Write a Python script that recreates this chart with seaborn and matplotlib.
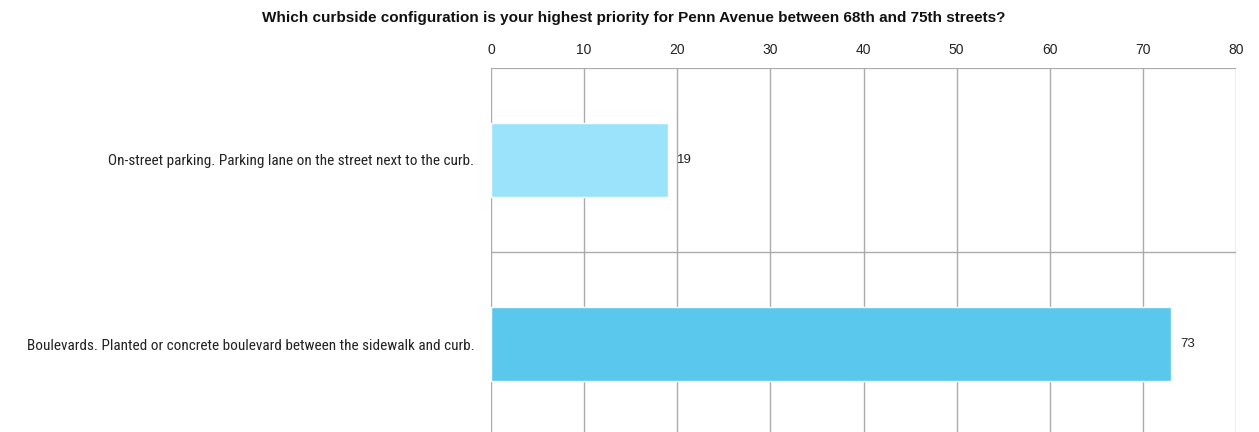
import matplotlib
matplotlib.use("Agg")
import matplotlib.pyplot as plt
from matplotlib import font_manager
import seaborn as sns
import pandas as pd

# Survey responses
categories = [
    "On-street parking. Parking lane on the street next to the curb.",
    "Boulevards. Planted or concrete boulevard between the sidewalk and curb.",
]
counts = [19, 73]
bar_colors = ["#9be3fb", "#5ac7ec"]
x_ticks = [0, 10, 20, 30, 40, 50, 60, 70, 80]
title = "Which curbside configuration is your highest priority for Penn Avenue between 68th and 75th streets?"

sns.set_style("white")
plt.rcParams["font.family"] = ["Liberation Sans", "DejaVu Sans"]

# prefer a condensed face for the category labels when one is installed
installed = {f.name for f in font_manager.fontManager.ttflist}
narrow = next((n for n in ["Liberation Sans Narrow", "Roboto Condensed",
                           "Open Sans Condensed", "DejaVu Sans Condensed"]
               if n in installed), None)
if narrow:
    label_family, label_size = [narrow, "DejaVu Sans"], 11
else:
    label_family, label_size = ["Liberation Sans", "DejaVu Sans"], 9

df = pd.DataFrame({"category": categories, "count": counts})

fig = plt.figure(figsize=(12.59, 4.32), dpi=100)
ax = fig.add_axes([491 / 1259, -4 / 432, 745 / 1259, 368 / 432])

sns.barplot(data=df, y="category", x="count", hue="category",
            palette=bar_colors, orient="h", width=0.4, legend=False, ax=ax,
            saturation=1)

ax.set_xlim(0, 80)
ax.set_ylim(1.5, -0.5)
ax.set_xticks(x_ticks)
ax.xaxis.tick_top()
ax.tick_params(axis="x", length=0, pad=8, labelsize=10, colors="#222222")
ax.tick_params(axis="y", length=0, pad=12)
ax.set_xlabel("")
ax.set_ylabel("")

ax.set_yticks([0, 1])
ax.set_yticklabels(categories, family=label_family,
                   fontsize=label_size, color="#222222")

# grid: vertical lines at ticks, horizontal lines between categories
grid_color = "#ababab"
for xv in x_ticks:
    ax.axvline(xv, color=grid_color, lw=1, zorder=0)
ax.axhline(0.5, color=grid_color, lw=1, zorder=0)
ax.axhline(-0.5, color=grid_color, lw=1.6, zorder=0)
for s in ax.spines.values():
    s.set_visible(False)

# value labels
for i, v in enumerate(counts):
    ax.text(v + 1.0, i, str(v), va="center", ha="left", fontsize=9.5, color="#222222")

fig.text(634 / 1259, 1 - 18 / 432, title, ha="center", va="center",
         fontsize=11, fontweight="bold", color="#111111")

fig.savefig("out.png", dpi=100)
